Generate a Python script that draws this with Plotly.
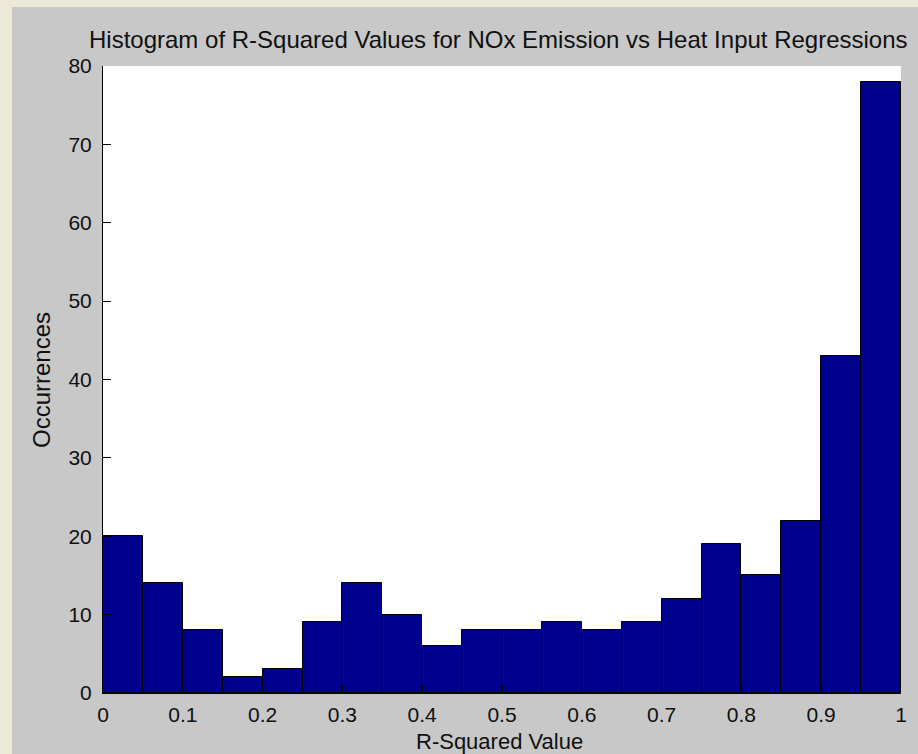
import plotly.graph_objects as go

# Histogram counts per R-squared bin (bin width 0.05, from 0 to 1)
bin_edges = [round(i * 0.05, 2) for i in range(21)]
counts = [20, 14, 8, 2, 3, 9, 14, 10, 6, 8, 8, 9, 8, 9, 12, 19, 15, 22, 43, 78]
x_tick_vals = [0, 0.1, 0.2, 0.3, 0.4, 0.5, 0.6, 0.7, 0.8, 0.9, 1.0]
x_tick_text = ["0", "0.1", "0.2", "0.3", "0.4", "0.5", "0.6", "0.7", "0.8", "0.9", "1"]
y_tick_vals = [0, 10, 20, 30, 40, 50, 60, 70, 80]

centers = [(a + b) / 2 for a, b in zip(bin_edges[:-1], bin_edges[1:])]
widths = [b - a for a, b in zip(bin_edges[:-1], bin_edges[1:])]

W, H = 918, 754
L, R, T, B = 103, 17, 66, 61
pw, ph = W - L - R, H - T - B

FONT = "Liberation Sans, Arial, sans-serif"
TXT = "#101010"
GREY = "#C8C8C8"
BEIGE = "#ECE9D8"

fig = go.Figure()
fig.add_trace(go.Bar(
    x=centers, y=counts, width=widths,
    marker=dict(color="#00008F", line=dict(color="black", width=1)),
    hoverinfo="x+y",
))


def px_x(p):
    return (p - L) / pw


def px_y(p):
    return (H - B - p) / ph


shapes = [
    # window frame strips around the grey figure area
    dict(type="rect", xref="paper", yref="paper", layer="above",
         x0=px_x(0), x1=px_x(12), y0=px_y(H), y1=px_y(0),
         fillcolor=BEIGE, line=dict(width=0)),
    dict(type="rect", xref="paper", yref="paper", layer="above",
         x0=px_x(0), x1=px_x(W), y0=px_y(7), y1=px_y(0),
         fillcolor=BEIGE, line=dict(width=0)),
]

annotations = [
    dict(text="Histogram of R-Squared Values for NOx Emission vs Heat Input Regressions",
         xref="paper", yref="paper", x=px_x(498), y=px_y(40),
         showarrow=False, xanchor="center", yanchor="middle",
         font=dict(family=FONT, size=24, color=TXT)),
    dict(text="R-Squared Value",
         xref="paper", yref="paper", x=px_x(499), y=px_y(741),
         showarrow=False, xanchor="center", yanchor="middle",
         font=dict(family=FONT, size=22, color=TXT)),
    dict(text="Occurrences", textangle=-90,
         xref="paper", yref="paper", x=px_x(41), y=px_y(380),
         showarrow=False, xanchor="center", yanchor="middle",
         font=dict(family=FONT, size=24, color=TXT)),
]

fig.update_layout(
    width=W, height=H,
    margin=dict(l=L, r=R, t=T, b=B, pad=0),
    paper_bgcolor=GREY, plot_bgcolor="white",
    showlegend=False, bargap=0,
    shapes=shapes, annotations=annotations,
    font=dict(family=FONT, size=21, color=TXT),
)
fig.update_xaxes(
    range=[0, 1], tickmode="array", tickvals=x_tick_vals, ticktext=x_tick_text,
    ticks="inside", ticklen=8, tickcolor="black", tickwidth=1,
    showline=True, linecolor="black", linewidth=1, showgrid=False, zeroline=False,
    tickfont=dict(family=FONT, size=21, color=TXT), ticklabelstandoff=3,
)
fig.update_yaxes(
    range=[0, 80], tickmode="array", tickvals=y_tick_vals,
    ticks="inside", ticklen=8, tickcolor="black", tickwidth=1,
    showline=True, linecolor="black", linewidth=1, showgrid=False, zeroline=False,
    tickfont=dict(family=FONT, size=21, color=TXT), ticklabelstandoff=6,
)

fig.write_html("out.html")
